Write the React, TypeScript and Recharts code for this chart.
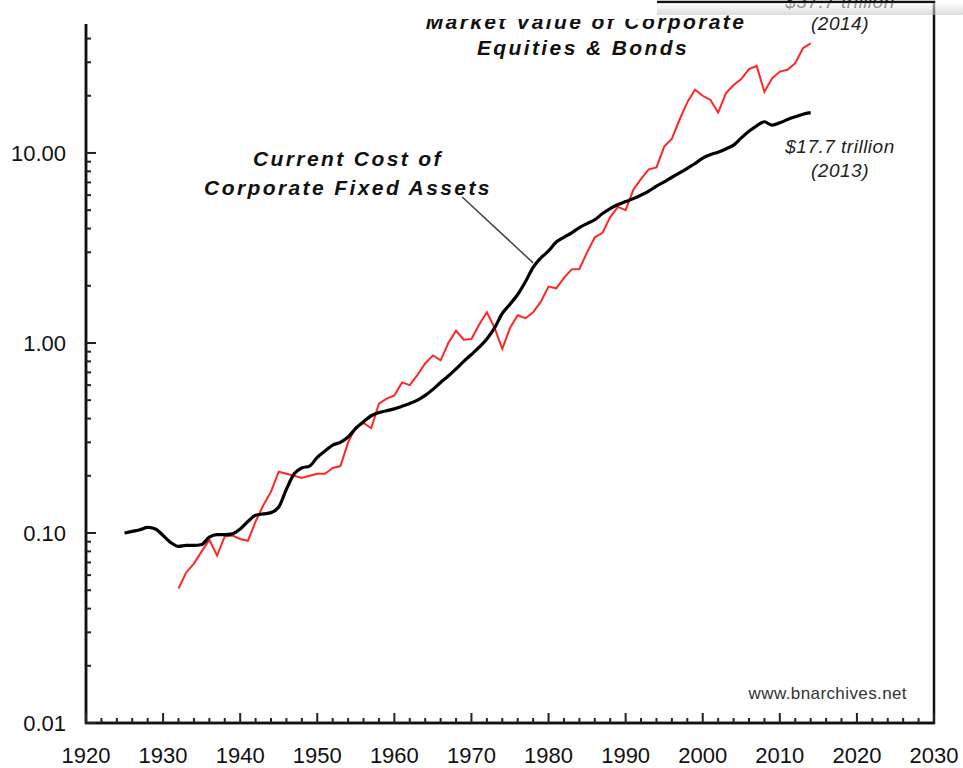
import { LineChart, Line, XAxis, YAxis, ReferenceArea, ReferenceLine, Customized } from "recharts"

const years = [
  1925, 1926, 1927, 1928, 1929,
  1930, 1931, 1932, 1933, 1934, 1935, 1936, 1937, 1938, 1939,
  1940, 1941, 1942, 1943, 1944, 1945, 1946, 1947, 1948, 1949,
  1950, 1951, 1952, 1953, 1954, 1955, 1956, 1957, 1958, 1959,
  1960, 1961, 1962, 1963, 1964, 1965, 1966, 1967, 1968, 1969,
  1970, 1971, 1972, 1973, 1974, 1975, 1976, 1977, 1978, 1979,
  1980, 1981, 1982, 1983, 1984, 1985, 1986, 1987, 1988, 1989,
  1990, 1991, 1992, 1993, 1994, 1995, 1996, 1997, 1998, 1999,
  2000, 2001, 2002, 2003, 2004, 2005, 2006, 2007, 2008, 2009,
  2010, 2011, 2012, 2013, 2014,
]

// current cost of corporate fixed assets, $ trillion
const fixedAssets = [
  0.100, 0.102, 0.104, 0.107, 0.105,
  0.097, 0.089, 0.085, 0.086, 0.086, 0.087, 0.095, 0.098, 0.098, 0.099,
  0.105, 0.115, 0.124, 0.126, 0.128, 0.137, 0.170, 0.205, 0.220, 0.225,
  0.250, 0.270, 0.290, 0.300, 0.320, 0.355, 0.385, 0.414, 0.430, 0.440,
  0.450, 0.465, 0.480, 0.500, 0.530, 0.570, 0.620, 0.670, 0.730, 0.800,
  0.870, 0.950, 1.050, 1.200, 1.430, 1.600, 1.800, 2.100, 2.500, 2.800,
  3.050, 3.400, 3.600, 3.800, 4.050, 4.250, 4.450, 4.800, 5.100, 5.350,
  5.550, 5.750, 6.000, 6.300, 6.700, 7.050, 7.450, 7.850, 8.300, 8.800,
  9.400, 9.800, 10.100, 10.500, 11.000, 12.000, 13.000, 13.900, 14.600, 14.000,
  14.400, 15.000, 15.500, 16.000, 16.300,
]

// market value of corporate equities & bonds, $ trillion
const marketValue = [
  null, null, null, null, null,
  null, null, 0.051, 0.062, 0.069, 0.080, 0.092, 0.076, 0.096, 0.097,
  0.093, 0.091, 0.115, 0.140, 0.165, 0.210, 0.205, 0.200, 0.195, 0.200,
  0.205, 0.205, 0.220, 0.225, 0.300, 0.360, 0.380, 0.356, 0.480, 0.510,
  0.530, 0.620, 0.600, 0.680, 0.780, 0.860, 0.810, 1.000, 1.160, 1.040,
  1.050, 1.250, 1.450, 1.200, 0.930, 1.200, 1.400, 1.350, 1.450, 1.650,
  1.980, 1.940, 2.200, 2.440, 2.450, 3.000, 3.600, 3.800, 4.600, 5.200,
  5.000, 6.400, 7.300, 8.200, 8.400, 10.800, 11.900, 15.000, 18.500, 21.500,
  20.000, 19.000, 16.300, 20.600, 22.800, 24.500, 27.600, 28.700, 21.000, 24.700,
  26.800, 27.400, 29.700, 35.600, 37.700,
]

const decadeLabels = [1920, 1930, 1940, 1950, 1960, 1970, 1980, 1990, 2000, 2010, 2020, 2030]
const xTicks = Array.from({ length: 56 }, (_, i) => 1920 + i * 2)

const yMajor = [0.01, 0.1, 1, 10]
const yMinor = [
  0.02, 0.03, 0.04, 0.05, 0.06, 0.07, 0.08, 0.09,
  0.2, 0.3, 0.4, 0.5, 0.6, 0.7, 0.8, 0.9,
  2, 3, 4, 5, 6, 7, 8, 9,
  20, 30, 40, 50, 60,
]

const data = years.map((year, i) => ({ year, fixed: fixedAssets[i], market: marketValue[i] }))

const FONT = "'Liberation Sans', Arial, Helvetica, sans-serif"
const W = 963
const H = 768
const AXIS_X = 86
const AXIS_Y = 723

function YTick(props: any) {
  const { y, payload } = props
  const major = yMajor.includes(payload.value)
  return (
    <g>
      <line x1={AXIS_X} x2={AXIS_X + (major ? 10 : 5)} y1={y} y2={y} stroke="#222" strokeWidth={2} />
      {major && (
        <text x={66} y={y} dy={8} textAnchor="end" fontSize={22} fill="#111" fontFamily={FONT}>
          {payload.value.toFixed(2)}
        </text>
      )}
    </g>
  )
}

function XTick(props: any) {
  const { x, payload } = props
  const major = decadeLabels.includes(payload.value)
  return (
    <g>
      <line x1={x} x2={x} y1={AXIS_Y} y2={AXIS_Y - (major ? 10 : 5)} stroke="#222" strokeWidth={2} />
      {major && (
        <text x={x} y={763} textAnchor="middle" fontSize={22} fill="#111" fontFamily={FONT}>
          {payload.value}
        </text>
      )}
    </g>
  )
}

function Annotations() {
  const bold = { fontFamily: FONT, fontWeight: 700, fontStyle: "italic", fontSize: 21, letterSpacing: 2.4, fill: "#111" } as const
  const note = { fontFamily: FONT, fontStyle: "italic", fontSize: 19, letterSpacing: 0.5, fill: "#222" } as const
  return (
    <g>
      <text x={586} y={29} textAnchor="middle" {...bold}>Market Value of Corporate</text>
      <text x={583} y={55} textAnchor="middle" {...bold}>Equities &amp; Bonds</text>
      <text x={348} y={166} textAnchor="middle" {...bold}>Current Cost of</text>
      <text x={348} y={195} textAnchor="middle" {...bold}>Corporate Fixed Assets</text>
      <text x={840} y={8} textAnchor="middle" {...note}>$37.7 trillion</text>
      <text x={840} y={30} textAnchor="middle" {...note}>(2014)</text>
      <text x={840} y={153} textAnchor="middle" {...note}>$17.7 trillion</text>
      <text x={840} y={177} textAnchor="middle" {...note}>(2013)</text>
      <text x={907} y={699} textAnchor="end" fontFamily={FONT} fontSize={17} letterSpacing={0.4} fill="#333">www.bnarchives.net</text>
    </g>
  )
}

export default function App() {
  return (
    <div style={{ position: "absolute", left: 0, top: 0, width: W, height: H, background: "#fff" }}>
      <LineChart width={W} height={H} data={data} margin={{ top: 2, right: 29, bottom: 0, left: 0 }}>
        <XAxis
          dataKey="year"
          type="number"
          domain={[1920, 2030]}
          ticks={xTicks}
          interval={0}
          height={45}
          tick={<XTick />}
          tickLine={false}
          axisLine={{ stroke: "#111", strokeWidth: 2.5 }}
        />
        <YAxis
          scale="log"
          type="number"
          domain={[0.01, 62.3]}
          allowDataOverflow
          ticks={[...yMajor, ...yMinor]}
          interval={0}
          width={AXIS_X}
          tick={<YTick />}
          tickLine={false}
          axisLine={{ stroke: "#111", strokeWidth: 2.5 }}
        />
        <ReferenceArea x1={1920} x2={2030} y1={0.01} y2={62.3} fill="none" stroke="#111" strokeWidth={2.5} ifOverflow="visible" />
        <ReferenceLine
          segment={[{ x: 1968.8, y: 5.87 }, { x: 1978, y: 2.64 }]}
          stroke="#444"
          strokeWidth={1.5}
          ifOverflow="visible"
        />
        <Line type="linear" dataKey="market" stroke="#ff2626" strokeWidth={2} dot={false} isAnimationActive={false} />
        <Line type="monotone" dataKey="fixed" stroke="#000" strokeWidth={3.2} dot={false} isAnimationActive={false} />
        <Customized component={Annotations} />
      </LineChart>
      {/* screenshot edge: white strip on the left, shaded box on the right */}
      <div style={{ position: "absolute", left: 0, top: 0, width: 400, height: 24, background: "#fff" }} />
      <div style={{ position: "absolute", left: 400, top: 0, width: 257, height: 19, background: "#fff" }} />
      <div
        style={{
          position: "absolute",
          left: 657,
          top: 3,
          width: 306,
          height: 12,
          background: "linear-gradient(to bottom, rgba(255,255,255,0.55), rgba(190,190,190,0.55))",
        }}
      />
    </div>
  )
}
